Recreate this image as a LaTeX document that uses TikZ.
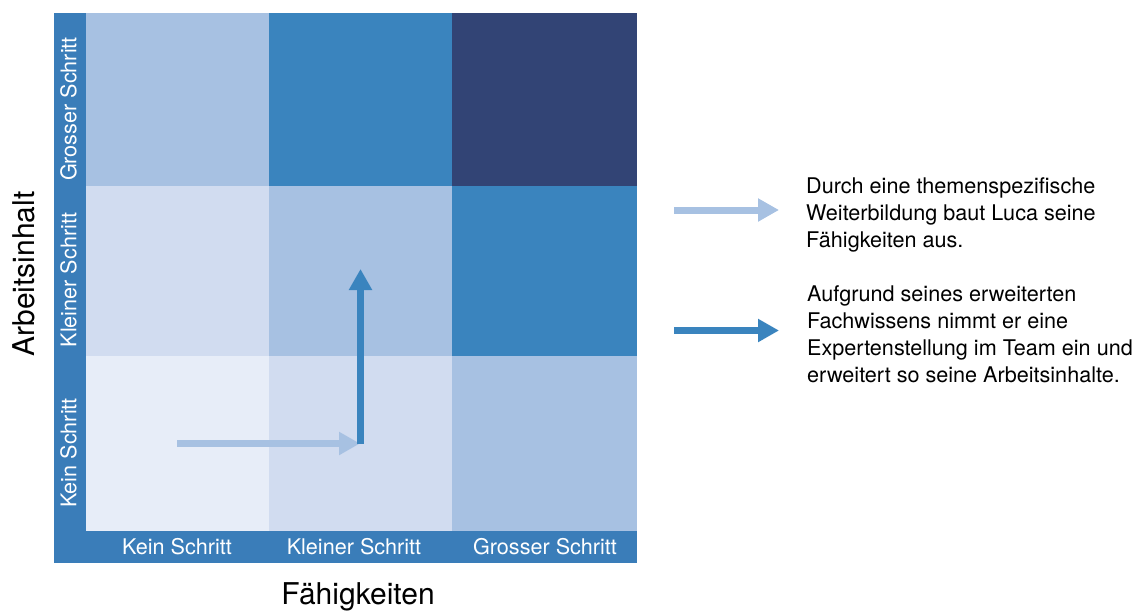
\documentclass[tikz,border=0pt]{standalone}
\usepackage{fontspec}
\setmainfont{TeX Gyre Heros}
\usetikzlibrary{arrows.meta}
\definecolor{blassblau}{HTML}{E7EDF8}
\definecolor{hellblau}{HTML}{D1DCF0}
\definecolor{mittelblau}{HTML}{A7C1E2}
\definecolor{blau}{HTML}{3A84BE}
\definecolor{dunkelblau}{HTML}{324475}
\definecolor{rahmen}{HTML}{3A7DB9}

\begin{document}
\begin{tikzpicture}[
    x=1pt, y=-1pt,
    font=\fontsize{21.6}{27}\selectfont,
    zelle/.style={
        inner sep=0pt,
        minimum width=183pt
    },
    stufe/.style={text=white, inner sep=0pt},
    achse/.style={font=\fontsize{30}{36}\selectfont, inner sep=0pt},
    legende/.style={anchor=north west, align=left, inner sep=0pt},
    pfeil/.style={-{Triangle[length=21pt,width=22pt]}, line width=7pt}
]
    \useasboundingbox (0,0) rectangle (1142,613);
    \fill[rahmen] (54,13) rectangle (637,563);

    % Raster
    \node[zelle, fill=mittelblau, minimum height=173pt] (z-1-1) at (177.5,99.5) {};
    \node[zelle, fill=blau, minimum height=173pt] (z-1-2) at (360.5,99.5) {};
    \node[zelle, fill=dunkelblau, minimum height=173pt, minimum width=185pt] (z-1-3) at (544.5,99.5) {};
    \node[zelle, fill=hellblau, minimum height=170pt] (z-2-1) at (177.5,271) {};
    \node[zelle, fill=mittelblau, minimum height=170pt] (z-2-2) at (360.5,271) {};
    \node[zelle, fill=blau, minimum height=170pt, minimum width=185pt] (z-2-3) at (544.5,271) {};
    \node[zelle, fill=blassblau, minimum height=175pt] (z-3-1) at (177.5,443.5) {};
    \node[zelle, fill=hellblau, minimum height=175pt] (z-3-2) at (360.5,443.5) {};
    \node[zelle, fill=mittelblau, minimum height=175pt, minimum width=185pt] (z-3-3) at (544.5,443.5) {};

    % Stufen
    \node[stufe, rotate=90] (inhalt-gross) at (68.5,109) {Grosser Schritt};
    \node[stufe, rotate=90] (inhalt-klein) at (68.5,280) {Kleiner Schritt};
    \node[stufe, rotate=90] (inhalt-kein) at (68.5,453) {Kein Schritt};
    \node[stufe, anchor=base] (faehig-kein) at (177,554) {Kein Schritt};
    \node[stufe, anchor=base] (faehig-klein) at (354,554) {Kleiner Schritt};
    \node[stufe, anchor=base] (faehig-gross) at (545,554) {Grosser Schritt};

    \node[achse, rotate=90] (arbeitsinhalt) at (24,274) {Arbeitsinhalt};
    \node[achse, anchor=base] (faehigkeiten) at (358,604) {Fähigkeiten};

    % Weg
    \coordinate (start) at (177,443.5);
    \coordinate (knick) at (360,443.5);
    \coordinate (ecke) at (360.5,444);
    \coordinate (ziel) at (360.5,269);
    \draw[pfeil, mittelblau] (start) -- (knick);
    \draw[pfeil, blau] (ecke) -- (ziel);

    % Legende
    \coordinate (leg1a) at (674,210);
    \coordinate (leg1b) at (779,210);
    \coordinate (leg2a) at (674,330.5);
    \coordinate (leg2b) at (779,330.5);
    \draw[pfeil, mittelblau] (leg1a) -- (leg1b);
    \draw[pfeil, blau] (leg2a) -- (leg2b);

    \node[legende] (text1) at (806,177)
        {Durch eine themenspezifische\\Weiterbildung baut Luca seine\\Fähigkeiten aus.};
    \node[legende] (text2) at (807,285)
        {Aufgrund seines erweiterten\\Fachwissens nimmt er eine\\Expertenstellung im Team ein und\\erweitert so seine Arbeitsinhalte.};
\end{tikzpicture}
\end{document}
